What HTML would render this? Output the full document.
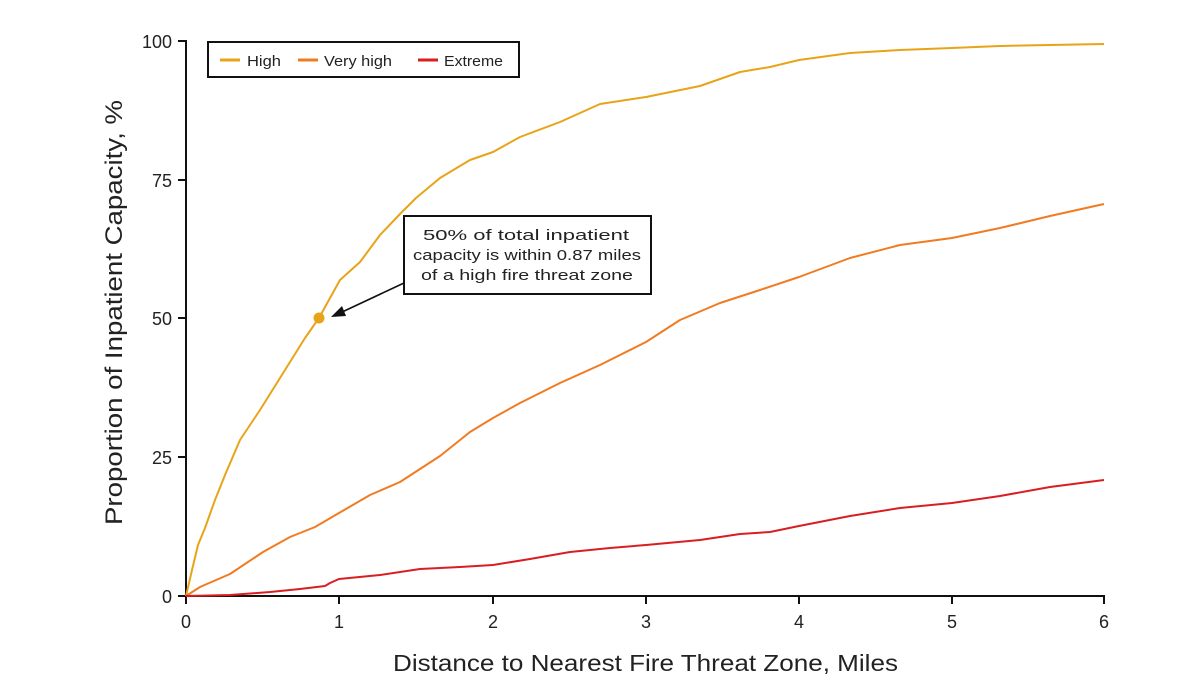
<!DOCTYPE html>
<html><head><style>body{margin:0;background:#fff}svg{display:block;font-family:"Liberation Sans",sans-serif}</style></head>
<body>
<svg width="1200" height="696" viewBox="0 0 1200 696">
<g stroke="#111" stroke-width="2" fill="none">
<line x1="186" y1="40" x2="186" y2="597"/>
<line x1="183" y1="596" x2="1105" y2="596"/>
<line x1="178" y1="41" x2="186" y2="41"/>
<line x1="178" y1="180" x2="186" y2="180"/>
<line x1="178" y1="318" x2="186" y2="318"/>
<line x1="178" y1="457" x2="186" y2="457"/>
<line x1="178" y1="596" x2="186" y2="596"/>
<line x1="186" y1="596" x2="186" y2="604"/>
<line x1="339" y1="596" x2="339" y2="604"/>
<line x1="493" y1="596" x2="493" y2="604"/>
<line x1="646" y1="596" x2="646" y2="604"/>
<line x1="799" y1="596" x2="799" y2="604"/>
<line x1="952" y1="596" x2="952" y2="604"/>
<line x1="1104" y1="596" x2="1104" y2="604"/>
</g>
<g font-size="18" fill="#222" text-anchor="end">
<text x="172" y="48">100</text><text x="172" y="187">75</text><text x="172" y="325">50</text><text x="172" y="464">25</text><text x="172" y="603">0</text>
</g>
<g font-size="18" fill="#222" text-anchor="middle">
<text x="186" y="628">0</text><text x="339" y="628">1</text><text x="493" y="628">2</text><text x="646" y="628">3</text><text x="799" y="628">4</text><text x="952" y="628">5</text><text x="1104" y="628">6</text>
</g>
<text x="393" y="671" font-size="23" fill="#222" textLength="505" lengthAdjust="spacingAndGlyphs">Distance to Nearest Fire Threat Zone, Miles</text>
<text transform="translate(122,525) rotate(-90)" font-size="24" fill="#222" textLength="425" lengthAdjust="spacingAndGlyphs">Proportion of Inpatient Capacity, %</text>
<g fill="none" stroke-width="2" stroke-linejoin="round">
<polyline stroke="#E8A418" points="186,596 192,570 198,545 205,528 215,500 225,475 240,440 260,410 285,370 305,338 319,318 330,298 340,280 360,262 380,235 400,214 416,198 440,178 470,160 493,152 520,137 560,122 600,104 646,97 700,86 740,72 770,67 799,60 850,53 900,50 952,48 1000,46 1050,45 1104,44"/>
<polyline stroke="#F07B22" points="186,596 200,587 230,574 263,552 290,537 315,527 339,513 370,495 400,482 440,456 470,432 493,418 520,403 560,383 600,365 646,342 680,320 720,303 760,290 799,277 850,258 900,245 952,238 1000,228 1050,216 1104,204"/>
<polyline stroke="#D91E22" points="186,596 230,595 270,592 300,589 325,586 330,583 339,579 380,575 420,569 460,567 493,565 530,559 570,552 610,548 646,545 700,540 740,534 770,532 799,526 850,516 900,508 952,503 1000,496 1050,487 1104,480"/>
</g>
<circle cx="319" cy="318" r="5.5" fill="#E8A418"/>
<line x1="404" y1="283" x2="340" y2="313" stroke="#111" stroke-width="1.6"/>
<polygon points="331,317 342,306 346,316" fill="#111"/>
<rect x="404" y="216" width="247" height="78" fill="#fff" stroke="#111" stroke-width="2"/>
<g font-size="15" fill="#222">
<text x="423" y="240" textLength="206" lengthAdjust="spacingAndGlyphs">50% of total inpatient</text>
<text x="413" y="260" textLength="228" lengthAdjust="spacingAndGlyphs">capacity is within 0.87 miles</text>
<text x="421" y="280" textLength="212" lengthAdjust="spacingAndGlyphs">of a high fire threat zone</text>
</g>
<rect x="208" y="42" width="311" height="35" fill="#fff" stroke="#111" stroke-width="2"/>
<g stroke-width="3">
<line x1="220" y1="60" x2="240" y2="60" stroke="#E8A418"/>
<line x1="298" y1="60" x2="318" y2="60" stroke="#F07B22"/>
<line x1="418" y1="60" x2="438" y2="60" stroke="#D91E22"/>
</g>
<g font-size="15" fill="#222">
<text x="247" y="66" textLength="34" lengthAdjust="spacingAndGlyphs">High</text><text x="324" y="66" textLength="68" lengthAdjust="spacingAndGlyphs">Very high</text><text x="444" y="66" textLength="59" lengthAdjust="spacingAndGlyphs">Extreme</text>
</g>
</svg>
</body></html>
